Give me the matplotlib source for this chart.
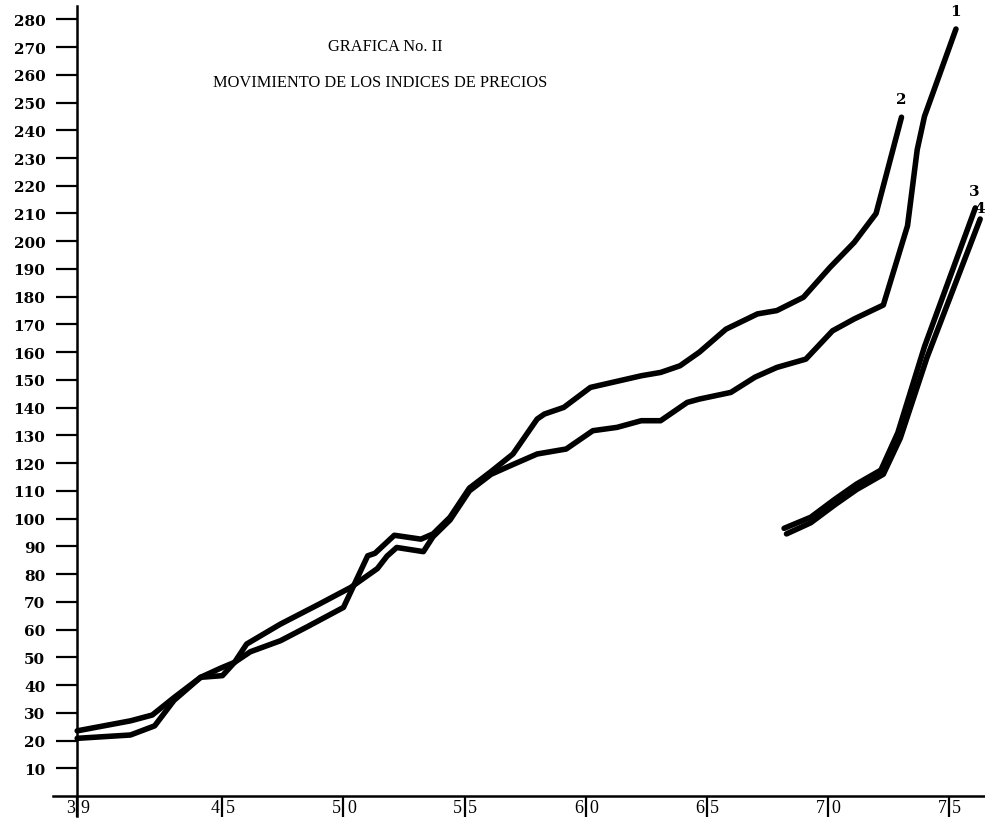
import matplotlib
matplotlib.use("Agg")
import matplotlib.pyplot as plt

# ---- data ----
years_1 = [39.0, 41.2, 42.2, 43.0, 44.1, 45.0, 45.5, 46.0, 47.4, 49.0, 50.3, 51.4, 51.8, 52.2,
           53.3, 53.7, 54.4, 55.2, 56.1, 57.0, 58.0, 59.2, 60.3, 61.3, 62.3, 63.1, 64.2, 64.7,
           66.0, 67.0, 67.9, 69.1, 70.2, 71.1, 72.3, 73.3, 73.7, 74.0, 75.3]
index_1 = [20.8, 22.0, 25.3, 34.5, 42.8, 43.4, 48.2, 54.8, 62.0, 69.2, 75.2, 82.0, 86.5, 89.6,
           88.1, 93.5, 99.5, 110.0, 116.0, 119.5, 123.3, 125.1, 131.7, 132.9, 135.3, 135.3, 141.9, 143.1,
           145.5, 151.0, 154.5, 157.5, 167.7, 172.0, 177.0, 205.6, 233.0, 245.0, 276.5]

years_2 = [39.0, 41.2, 42.1, 43.0, 44.1, 44.9, 45.5, 46.15, 47.4, 48.5, 50.0, 51.0, 51.3, 52.1,
           53.2, 53.7, 54.4, 55.2, 56.1, 57.0, 58.0, 58.3, 59.1, 60.2, 61.4, 62.3, 63.1, 63.9,
           64.7, 65.8, 67.1, 67.9, 69.0, 70.1, 71.1, 72.0, 73.05]
index_2 = [23.5, 27.1, 29.2, 35.5, 42.8, 46.0, 48.2, 52.0, 56.0, 61.0, 68.0, 86.6, 87.5, 94.0,
           92.6, 94.5, 100.5, 111.0, 117.0, 123.3, 135.9, 137.7, 140.1, 147.3, 149.7, 151.5, 152.7, 155.1,
           160.0, 168.3, 173.8, 175.0, 179.8, 190.6, 199.6, 210.0, 244.7]

years_3 = [68.2, 69.3, 70.3, 71.2, 72.2, 72.9, 74.0, 76.1]
index_3 = [96.5, 100.5, 107.0, 112.5, 117.5, 131.0, 162.0, 212.0]

years_4 = [68.3, 69.3, 70.3, 71.2, 72.3, 73.0, 74.1, 76.3]
index_4 = [94.5, 98.5, 105.0, 110.5, 116.0, 129.0, 158.0, 208.0]

series_labels = ["1", "2", "3", "4"]
y_ticks = list(range(10, 281, 10))
x_ticks = [39, 45, 50, 55, 60, 65, 70, 75]
x_tick_labels = ["39", "45", "50", "55", "60", "65", "70", "75"]
title_1 = "GRAFICA No. II"
title_2 = "MOVIMIENTO DE LOS INDICES DE PRECIOS"

# ---- figure ----
W, H = 985, 820
fig = plt.figure(figsize=(W / 100, H / 100), dpi=100)
ax = fig.add_axes([53 / W, 3 / H, 1 - 53 / W, (817 - 7) / H])
ax.set_xlim(38.0, 76.5)
ax.set_ylim(-7.2, 284.8)

for s in ("top", "right"):
    ax.spines[s].set_visible(False)
ax.spines["left"].set_position(("data", 39))
ax.spines["bottom"].set_position(("data", 0))
ax.spines["left"].set_linewidth(1.8)
ax.spines["bottom"].set_linewidth(1.8)

lw = 4.0
kw = dict(color="black", lw=lw, solid_capstyle="round", solid_joinstyle="round")
ax.plot(years_1, index_1, **kw)
ax.plot(years_2, index_2, **kw)
ax.plot(years_3, index_3, **kw)
ax.plot(years_4, index_4, **kw)

# y ticks
ax.set_yticks(y_ticks)
ax.set_yticklabels([str(v) for v in y_ticks], fontfamily="DejaVu Serif",
                   fontweight="bold", fontsize=11)
ax.tick_params(axis="y", direction="out", length=15, width=1.6, pad=8)

# x ticks: digits split around the tick mark
ax.set_xticks(x_ticks)
ax.set_xticklabels([])
ax.tick_params(axis="x", direction="out", length=15, width=1.6)
for xv, lab in zip(x_ticks, x_tick_labels):
    ax.text(xv - 0.1, -4.2, lab[0], ha="right", va="center", fontsize=13,
            fontfamily="Liberation Serif", clip_on=False)
    ax.text(xv + 0.15, -4.2, lab[1], ha="left", va="center", fontsize=13,
            fontfamily="Liberation Serif", clip_on=False)

# titles
fig.text(385 / W, 1 - 47 / H, title_1, ha="center", va="center",
         fontsize=11.8, fontfamily="Liberation Serif")
fig.text(380 / W, 1 - 83 / H, title_2, ha="center", va="center",
         fontsize=11.8, fontfamily="Liberation Serif")

# series labels at line ends
label_pos = [(years_1[-1], index_1[-1] + 6.5, "center"),
             (years_2[-1], index_2[-1] + 6.5, "center"),
             (years_3[-1] - 0.05, index_3[-1] + 6.0, "center"),
             (76.48, index_4[-1] + 4.0, "right")]
for lab, (xe, ye, ha) in zip(series_labels, label_pos):
    ax.text(xe, ye, lab, ha=ha, va="center", fontsize=11,
            fontfamily="DejaVu Serif", fontweight="bold", clip_on=False)

fig.savefig("out.png", dpi=100, facecolor="white")
